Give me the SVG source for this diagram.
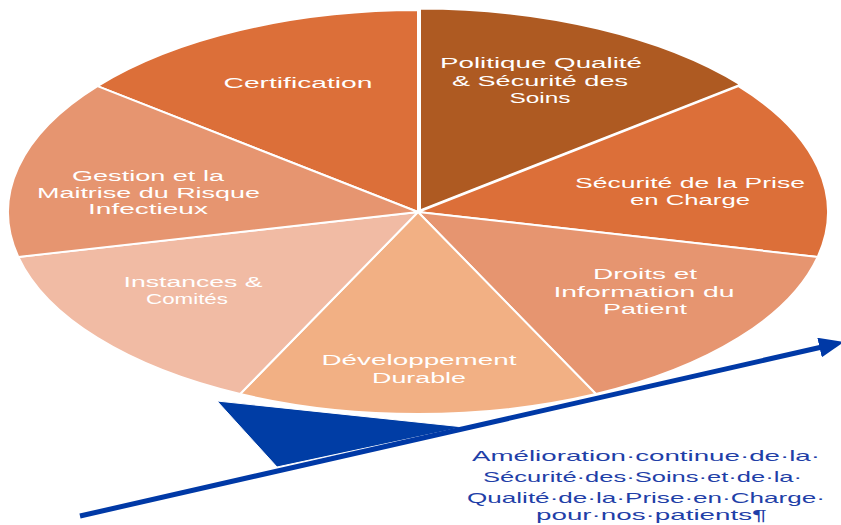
<svg xmlns="http://www.w3.org/2000/svg" width="841" height="525" viewBox="0 0 841 525">
  <defs>
    <style>
      .slice { stroke: #ffffff; stroke-width: 2; stroke-linejoin: round; }
      .lbl { font-family: "Liberation Sans", Arial, sans-serif; font-size: 14px; fill: #ffffff; text-anchor: middle; }
      .note { font-family: "Liberation Sans", Arial, sans-serif; font-size: 15px; fill: #1F3FA8; text-anchor: middle; }
    </style>
    <marker id="arrowhead" markerWidth="5" markerHeight="4" refX="0.5" refY="2" orient="auto" markerUnits="strokeWidth">
      <polygon points="0,0 5,2 0,4" fill="#0039A6"/>
    </marker>
  </defs>
  <rect width="841" height="525" fill="#ffffff"/>

  <g id="certification">
    <path class="slice" fill="#DC6F39" d="M418,212 L97.5,86.1 A410,202 0 0 1 418,10 Z"/>
    <text class="lbl" x="298" y="88" textLength="149" lengthAdjust="spacingAndGlyphs">Certification</text>
  </g>
  <g id="politique" transform="translate(2,-1.5)">
    <path class="slice" fill="#AE5A22" d="M418,212 L418,10 A410,202 0 0 1 738.5,86.1 Z"/>
    <text class="lbl" x="539" y="69" textLength="202" lengthAdjust="spacingAndGlyphs">Politique Qualité</text>
    <text class="lbl" x="538" y="87.5" textLength="176" lengthAdjust="spacingAndGlyphs">&amp; Sécurité des</text>
    <text class="lbl" x="538" y="104.5" textLength="61" lengthAdjust="spacingAndGlyphs">Soins</text>
  </g>
  <g id="securite">
    <path class="slice" fill="#DC6F39" d="M418,212 L738.5,86.1 A410,202 0 0 1 817.7,256.9 Z"/>
    <text class="lbl" x="690" y="188" textLength="230" lengthAdjust="spacingAndGlyphs">Sécurité de la Prise</text>
    <text class="lbl" x="690" y="205" textLength="120" lengthAdjust="spacingAndGlyphs">en Charge</text>
  </g>
  <g id="droits">
    <path class="slice" fill="#E69570" d="M418,212 L817.7,256.9 A410,202 0 0 1 595.9,394 Z"/>
    <text class="lbl" x="645" y="278.5" textLength="104" lengthAdjust="spacingAndGlyphs">Droits et</text>
    <text class="lbl" x="644" y="296.5" textLength="181" lengthAdjust="spacingAndGlyphs">Information du</text>
    <text class="lbl" x="645" y="313.5" textLength="84" lengthAdjust="spacingAndGlyphs">Patient</text>
  </g>
  <g id="developpement">
    <path class="slice" fill="#F2B084" d="M418,212 L595.9,394 A410,202 0 0 1 240.1,394 Z"/>
    <text class="lbl" x="419" y="365" textLength="195" lengthAdjust="spacingAndGlyphs">Développement</text>
    <text class="lbl" x="419" y="383" textLength="94" lengthAdjust="spacingAndGlyphs">Durable</text>
  </g>
  <g id="instances">
    <path class="slice" fill="#F1BBA4" d="M418,212 L240.1,394 A410,202 0 0 1 18.3,256.9 Z"/>
    <text class="lbl" x="193" y="287" textLength="139" lengthAdjust="spacingAndGlyphs">Instances &amp;</text>
    <text class="lbl" x="187" y="304" textLength="82" lengthAdjust="spacingAndGlyphs">Comités</text>
  </g>
  <g id="gestion">
    <path class="slice" fill="#E69570" d="M418,212 L18.3,256.9 A410,202 0 0 1 97.5,86.1 Z"/>
    <text class="lbl" x="148" y="181" textLength="152" lengthAdjust="spacingAndGlyphs">Gestion et la</text>
    <text class="lbl" x="148.5" y="197.5" textLength="223" lengthAdjust="spacingAndGlyphs">Maitrise du Risque</text>
    <text class="lbl" x="148" y="214" textLength="120" lengthAdjust="spacingAndGlyphs">Infectieux</text>
  </g>

  <g id="connectors">
    <polygon id="wedge" points="217,401 464,427 277,467" fill="#003DA5" stroke="#ffffff" stroke-width="1"/>
    <line id="arrow" x1="80" y1="516" x2="822" y2="347" stroke="#0039A6" stroke-width="5" marker-end="url(#arrowhead)"/>
  </g>

  <g id="caption">
    <text class="note" x="646" y="461" textLength="348" lengthAdjust="spacingAndGlyphs">Amélioration·continue·de·la·</text>
    <text class="note" x="642.5" y="482" textLength="319" lengthAdjust="spacingAndGlyphs">Sécurité·des·Soins·et·de·la·</text>
    <text class="note" x="646" y="502.5" textLength="358" lengthAdjust="spacingAndGlyphs">Qualité·de·la·Prise·en·Charge·</text>
    <text class="note" x="651.5" y="519.5" textLength="231" lengthAdjust="spacingAndGlyphs">pour·nos·patients¶</text>
  </g>
</svg>
